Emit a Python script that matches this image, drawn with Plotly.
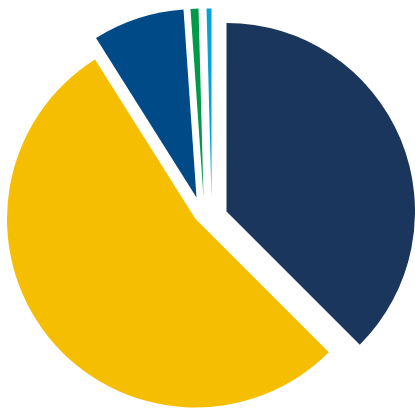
import plotly.graph_objects as go

# ---- data ----
labels = ["Navy", "Yellow", "Blue", "Green", "Teal"]
values = [37.5, 53.55, 7.85, 0.68, 0.42]
colors = ["#1B365D", "#F5BE00", "#004B87", "#009A49", "#00A5D5"]

# ---- layout / styling ----
W, H = 415, 410
R = 188.5
base_center = (203.0, 214.0)
# exploded offset of each slice (px) from the base centre
explode = [(23.5, -2.5), (-7.5, 5.0), (-6.5, -16.5), (0.5, -17.0), (8.5, -17.0)]

fig = go.Figure()
for i, (dx, dy) in enumerate(explode):
    cx, cy = base_center[0] + dx, base_center[1] + dy
    r = min(R, W - cx, cx, H - cy, cy)
    dom_x = [max(0, (cx - r) / W), min(1, (cx + r) / W)]
    dom_y = [max(0, 1 - (cy + r) / H), min(1, 1 - (cy - r) / H)]
    slice_colors = [c if j == i else "rgba(0,0,0,0)" for j, c in enumerate(colors)]
    fig.add_trace(go.Pie(
        labels=labels,
        values=values,
        sort=False,
        direction="clockwise",
        rotation=0,
        marker=dict(colors=slice_colors, line=dict(width=0)),
        textinfo="none",
        hoverinfo="skip",
        showlegend=False,
        domain=dict(x=dom_x, y=dom_y),
    ))

fig.update_layout(
    width=W, height=H,
    margin=dict(l=0, r=0, t=0, b=0),
    paper_bgcolor="white",
    plot_bgcolor="white",
    showlegend=False,
)

fig.write_html("out.html")
